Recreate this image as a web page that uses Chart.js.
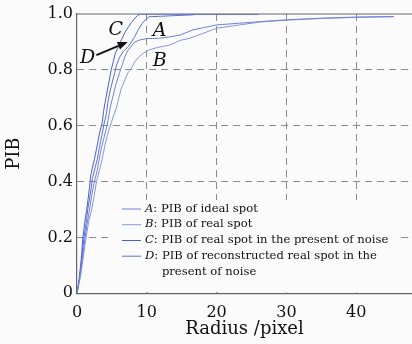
<!DOCTYPE html>
<html><head><meta charset="utf-8">
<script src="https://cdn.jsdelivr.net/npm/chart.js@4"></script>
<style>html,body{margin:0;padding:0;background:#fbfbfb}#wrap{width:412px;height:344px}</style>
</head><body><div id="wrap"><canvas id="c" width="412" height="344"></canvas></div>
<script>
// ---- data ----
const xTickValues = [0, 10, 20, 30, 40];
const yTickValues = [0, 0.2, 0.4, 0.6, 0.8, 1.0];
const xAxisTitle = 'Radius /pixel';
const yAxisTitle = 'PIB';

const seriesLetters = ['A', 'B', 'C', 'D'];
const legendDescriptions = [
  'PIB of ideal spot',
  'PIB of real spot',
  'PIB of real spot in the present of noise',
  'PIB of reconstructed real spot in the'
];
const legendContinuations = ['', '', '', 'present of noise'];

const radiusA = [0,0.35,0.75,1.1,1.4,1.8,2.1,2.5,2.9,3.1,3.5,3.9,4.3,4.6,4.8,5.2,5.6,6.1,6.5,6.9,7.3,7.8,8.3,9.0,10,11.8,13.3,14.8,16.6,18.3,20,23.3,27,30,35,40,45.4];
const pibA    = [0,0.05,0.12,0.19,0.24,0.30,0.35,0.40,0.44,0.47,0.52,0.56,0.60,0.64,0.67,0.71,0.75,0.79,0.82,0.85,0.87,0.885,0.90,0.907,0.912,0.913,0.918,0.925,0.943,0.952,0.961,0.967,0.974,0.979,0.985,0.989,0.991];

const radiusB = [0,0.5,0.9,1.3,1.7,2.1,2.4,2.8,3.2,3.6,4.0,4.4,4.9,5.3,5.6,5.9,6.3,6.8,7.3,7.7,8.3,8.9,9.5,10.4,11.5,13.3,14.7,16.1,18,20,23.3,26.5,30,35,40,45.4];
const pibB    = [0,0.06,0.13,0.20,0.26,0.30,0.34,0.40,0.44,0.48,0.53,0.57,0.61,0.64,0.66,0.69,0.73,0.76,0.79,0.80,0.83,0.847,0.86,0.872,0.88,0.889,0.905,0.913,0.93,0.949,0.961,0.972,0.978,0.984,0.988,0.99];

const radiusC = [0,0.3,0.6,0.85,1.2,1.4,1.8,1.95,2.3,2.5,2.9,3.2,3.6,3.8,4.0,4.3,4.6,4.9,5.2,5.5,5.9,6.4,6.9,7.4,7.8,8.3,8.7,9.0,26];
const pibC    = [0,0.05,0.12,0.20,0.27,0.30,0.38,0.42,0.46,0.48,0.53,0.57,0.61,0.65,0.68,0.72,0.76,0.80,0.83,0.86,0.88,0.91,0.935,0.955,0.97,0.985,0.995,1.0,1.0];

const radiusD = [0,0.4,0.7,1.0,1.3,1.6,2.0,2.2,2.6,2.9,3.2,3.6,3.9,4.2,4.4,4.7,5.1,5.4,5.7,6.1,6.6,7.0,7.4,7.8,8.3,8.8,9.3,9.8,10.3,12,16.6,17,26];
const pibD    = [0,0.06,0.13,0.20,0.25,0.31,0.37,0.41,0.45,0.48,0.52,0.57,0.61,0.64,0.68,0.72,0.76,0.79,0.82,0.845,0.865,0.875,0.885,0.90,0.92,0.945,0.965,0.98,0.99,0.992,0.997,1.0,1.0];

const annotationLetters = ['C', 'A', 'D', 'B'];
const annotationRadius  = [5.54, 11.85, 1.53, 11.85];
const annotationPib     = [0.944, 0.938, 0.844, 0.833];
const arrowStart = [2.78, 0.853];
const arrowEnd   = [7.26, 0.900];

// ---- styles ----
const seriesColors = ['#6f80d8', '#8796de', '#4a5ecb', '#5c6fd2'];
const serif = '"DejaVu Serif", serif';

function toPoints(xs, ys) { return xs.map((x, i) => ({x: x, y: ys[i]})); }
const radii = [radiusA, radiusB, radiusC, radiusD];
const pibs = [pibA, pibB, pibC, pibD];

const datasets = seriesLetters.map((s, i) => ({
  label: s + ': ' + legendDescriptions[i],
  data: toPoints(radii[i], pibs[i]),
  borderColor: seriesColors[i],
  backgroundColor: seriesColors[i],
  borderWidth: 1,
  pointRadius: 0,
  tension: 0,
  fill: false
}));

const overlay = {
  id: 'overlay',
  beforeDatasetsDraw(chart) {
    const ctx = chart.ctx;
    const ca = chart.chartArea;
    const xs = chart.scales.x, ys = chart.scales.y;
    ctx.save();
    // top frame line
    ctx.strokeStyle = '#666'; ctx.lineWidth = 1.2;
    ctx.beginPath(); ctx.moveTo(ca.left, ca.top); ctx.lineTo(ca.right, ca.top); ctx.stroke();
    // inward ticks on x axis
    ctx.strokeStyle = '#777'; ctx.lineWidth = 1;
    xTickValues.forEach(v => {
      if (v === 0) return;
      const px = Math.round(xs.getPixelForValue(v)) + 0.5;
      ctx.beginPath(); ctx.moveTo(px, ca.bottom); ctx.lineTo(px, ca.bottom - 7); ctx.stroke();
    });
    // legend box
    ctx.fillStyle = '#fbfbfb';
    ctx.fillRect(112, 200, 284, ca.bottom - 201);
    const rowY = [208.5, 224.2, 240, 255.7];
    const fs = 11.6;
    seriesLetters.forEach((s, i) => {
      const y = rowY[i];
      ctx.strokeStyle = seriesColors[i]; ctx.lineWidth = 1;
      ctx.beginPath(); ctx.moveTo(122, y + 0.5); ctx.lineTo(141, y + 0.5); ctx.stroke();
      ctx.fillStyle = '#111';
      ctx.textBaseline = 'middle';
      ctx.textAlign = 'left';
      ctx.font = 'italic ' + fs + 'px ' + serif;
      ctx.fillText(s, 145, y);
      const w = ctx.measureText(s).width;
      ctx.font = fs + 'px ' + serif;
      ctx.fillText(': ', 145 + w, y);
      const w2 = ctx.measureText(': ').width;
      ctx.fillText(legendDescriptions[i], 145 + w + w2, y);
      if (legendContinuations[i]) {
        ctx.fillText(legendContinuations[i], 145 + w + w2, y + 15.8);
      }
    });
    ctx.restore();
  },
  afterDatasetsDraw(chart) {
    const ctx = chart.ctx;
    const xs = chart.scales.x, ys = chart.scales.y;
    ctx.save();
    ctx.fillStyle = '#111';
    ctx.font = 'italic 19px ' + serif;
    ctx.textAlign = 'center';
    ctx.textBaseline = 'middle';
    annotationLetters.forEach((l, i) => {
      ctx.fillText(l, xs.getPixelForValue(annotationRadius[i]), ys.getPixelForValue(annotationPib[i]));
    });
    // arrow
    const x1 = xs.getPixelForValue(arrowStart[0]), y1 = ys.getPixelForValue(arrowStart[1]);
    const x2 = xs.getPixelForValue(arrowEnd[0]), y2 = ys.getPixelForValue(arrowEnd[1]);
    const ang = Math.atan2(y2 - y1, x2 - x1);
    const hl = 10, hw = 4;
    const bx = x2 - hl * Math.cos(ang), by = y2 - hl * Math.sin(ang);
    ctx.strokeStyle = '#111'; ctx.lineWidth = 2;
    ctx.beginPath(); ctx.moveTo(x1, y1); ctx.lineTo(bx, by); ctx.stroke();
    ctx.beginPath();
    ctx.moveTo(x2, y2);
    ctx.lineTo(bx + hw * Math.sin(ang), by - hw * Math.cos(ang));
    ctx.lineTo(bx - hw * Math.sin(ang), by + hw * Math.cos(ang));
    ctx.closePath(); ctx.fill();
    ctx.restore();
  }
};

new Chart(document.getElementById('c'), {
  type: 'line',
  data: { datasets: datasets },
  options: {
    responsive: false,
    devicePixelRatio: 1,
    animation: false,
    layout: { padding: { top: 14, right: 0, bottom: 0, left: 0 } },
    plugins: { legend: { display: false }, tooltip: { enabled: false } },
    scales: {
      x: {
        type: 'linear', min: 0, max: 48,
        afterBuildTicks: s => { s.ticks = xTickValues.map(v => ({ value: v })); },
        afterFit: s => { s.height = 50.7; },
        ticks: { color: '#111', font: { family: serif, size: 16 }, padding: 9.5, maxRotation: 0, callback: v => String(v) },
        grid: { color: c => (c.tick && c.tick.value === 0) ? 'rgba(0,0,0,0)' : '#8a8a8a', lineWidth: 1, drawTicks: false },
        border: { display: true, color: '#666', width: 1.2, dash: [7, 5] },
        title: { display: true, text: xAxisTitle, color: '#111', font: { family: serif, size: 18 }, padding: { top: 0, bottom: 4 } }
      },
      y: {
        type: 'linear', min: 0, max: 1,
        afterBuildTicks: s => { s.ticks = yTickValues.map(v => ({ value: v })); },
        afterFit: s => { s.width = 77; },
        ticks: { color: '#111', font: { family: serif, size: 16 }, padding: 4, callback: v => v === 0 ? '0' : v.toFixed(1) },
        grid: { color: c => (c.tick && (c.tick.value === 0 || c.tick.value === 1)) ? 'rgba(0,0,0,0)' : '#8a8a8a', lineWidth: 1, drawTicks: false },
        border: { display: true, color: '#666', width: 1.2, dash: [7, 5] },
        title: { display: true, text: yAxisTitle, color: '#111', font: { family: serif, size: 18 }, padding: { top: 4, bottom: 0 } }
      }
    }
  },
  plugins: [overlay]
});
</script>
</body></html>
